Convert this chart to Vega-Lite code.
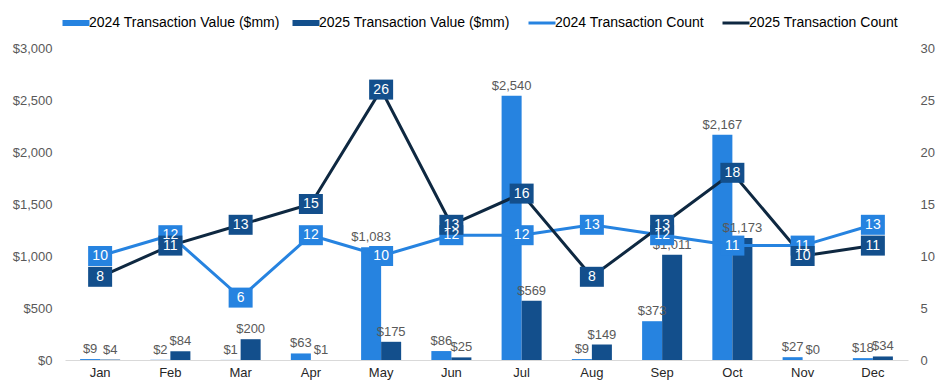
{
  "$schema": "https://vega.github.io/schema/vega-lite/v6.json",
  "autosize": {"type": "none"},
  "width": 843,
  "height": 312,
  "padding": {"left": 65, "top": 48, "right": 35, "bottom": 29},
  "background": "white",
  "config": {
    "view": {"stroke": null},
    "font": "Liberation Sans",
    "axis": {"grid": false, "ticks": false, "labelFont": "Liberation Sans", "labelFontSize": 13, "labelColor": "#595959"}
  },
  "data": {
    "values": [
      {"month": "Jan", "v2024": 9, "v2025": 4, "n2024": 10, "n2025": 8},
      {"month": "Feb", "v2024": 2, "v2025": 84, "n2024": 12, "n2025": 11},
      {"month": "Mar", "v2024": 1, "v2025": 200, "n2024": 6, "n2025": 13},
      {"month": "Apr", "v2024": 63, "v2025": 1, "n2024": 12, "n2025": 15},
      {"month": "May", "v2024": 1083, "v2025": 175, "n2024": 10, "n2025": 26},
      {"month": "Jun", "v2024": 86, "v2025": 25, "n2024": 12, "n2025": 13},
      {"month": "Jul", "v2024": 2540, "v2025": 569, "n2024": 12, "n2025": 16},
      {"month": "Aug", "v2024": 9, "v2025": 149, "n2024": 13, "n2025": 8},
      {"month": "Sep", "v2024": 373, "v2025": 1011, "n2024": 12, "n2025": 13},
      {"month": "Oct", "v2024": 2167, "v2025": 1173, "n2024": 11, "n2025": 18},
      {"month": "Nov", "v2024": 27, "v2025": 0, "n2024": 11, "n2025": 10},
      {"month": "Dec", "v2024": 18, "v2025": 34, "n2024": 13, "n2025": 11}
    ]
  },
  "layer": [
    {
      "transform": [{"fold": ["v2024", "v2025"], "as": ["series", "value"]}],
      "encoding": {
        "x": {
          "field": "month", "type": "nominal",
          "sort": ["Jan","Feb","Mar","Apr","May","Jun","Jul","Aug","Sep","Oct","Nov","Dec"],
          "scale": {"paddingInner": 0.43, "paddingOuter": 0.215},
          "axis": {"title": null, "labelAngle": 0, "labelColor": "#262626", "labelPadding": 6, "domain": true, "domainColor": "#D9D9D9", "domainWidth": 1}
        },
        "xOffset": {"field": "series", "type": "nominal", "sort": ["v2024", "v2025"], "scale": {"paddingInner": 0, "paddingOuter": 0}},
        "y": {
          "field": "value", "type": "quantitative",
          "scale": {"domain": [0, 3000], "nice": false},
          "axis": {"title": null, "orient": "left", "values": [0,500,1000,1500,2000,2500,3000], "format": "$,.0f", "domain": false, "labelPadding": 13}
        }
      },
      "layer": [
        {
          "mark": {"type": "bar"},
          "encoding": {
            "color": {
              "field": "series", "type": "nominal",
              "scale": {"domain": ["v2024", "v2025", "n2024", "n2025"], "range": ["#2683E0", "#134F8C", "#2683E0", "#0E2841"]},
              "legend": {
                "title": null, "orient": "none", "direction": "horizontal", "legendX": 4, "legendY": -32,
                "labelExpr": "datum.value == 'v2024' ? '2024 Transaction Value ($mm)' : datum.value == 'v2025' ? '2025 Transaction Value ($mm)' : datum.value == 'n2024' ? '2024 Transaction Count' : '2025 Transaction Count'",
                "labelFont": "Liberation Sans", "labelFontSize": 14, "labelColor": "#000000", "labelLimit": 300,
                "labelOffset": 6, "columnPadding": 12, "symbolSize": 729,
                "encode": {
                  "symbols": {
                    "update": {
                      "shape": {"signal": "datum.value == 'n2024' || datum.value == 'n2025' ? 'M-1,0H1' : 'M-1,-0.222H1V0.222H-1Z'"},
                      "stroke": {"scale": "color", "field": "value"},
                      "fill": {"scale": "color", "field": "value"},
                      "strokeWidth": {"signal": "datum.value == 'n2024' || datum.value == 'n2025' ? 3 : 0"}
                    }
                  }
                }
              }
            }
          }
        },
        {
          "mark": {"type": "text", "baseline": "bottom", "dy": -3, "fontSize": 13, "color": "#595959"},
          "encoding": {"text": {"field": "value", "type": "quantitative", "format": "$,.0f"}}
        }
      ]
    },
    {
      "transform": [{"fold": ["n2024", "n2025"], "as": ["series", "count"]}],
      "encoding": {
        "x": {
          "field": "month", "type": "nominal",
          "sort": ["Jan","Feb","Mar","Apr","May","Jun","Jul","Aug","Sep","Oct","Nov","Dec"]
        },
        "y": {
          "field": "count", "type": "quantitative",
          "scale": {"domain": [0, 30], "nice": false},
          "axis": {"title": null, "orient": "right", "values": [0,5,10,15,20,25,30], "domain": false, "labelPadding": 12}
        }
      },
      "layer": [
        {
          "mark": {"type": "line", "strokeWidth": 3},
          "encoding": {
            "color": {"field": "series", "type": "nominal"}
          }
        },
        {
          "mark": {"type": "point", "filled": true, "opacity": 1, "shape": "M-1.2,-1H1.2V1H-1.2Z", "size": 400},
          "encoding": {
            "fill": {"field": "series", "type": "nominal", "scale": {"domain": ["n2024", "n2025"], "range": ["#2683E0", "#134F8C"]}, "legend": null}
          }
        },
        {
          "mark": {"type": "text", "color": "white", "fontSize": 14, "baseline": "middle", "align": "center"},
          "encoding": {"text": {"field": "count", "type": "quantitative"}}
        }
      ]
    }
  ],
  "resolve": {"scale": {"y": "independent"}}
}
